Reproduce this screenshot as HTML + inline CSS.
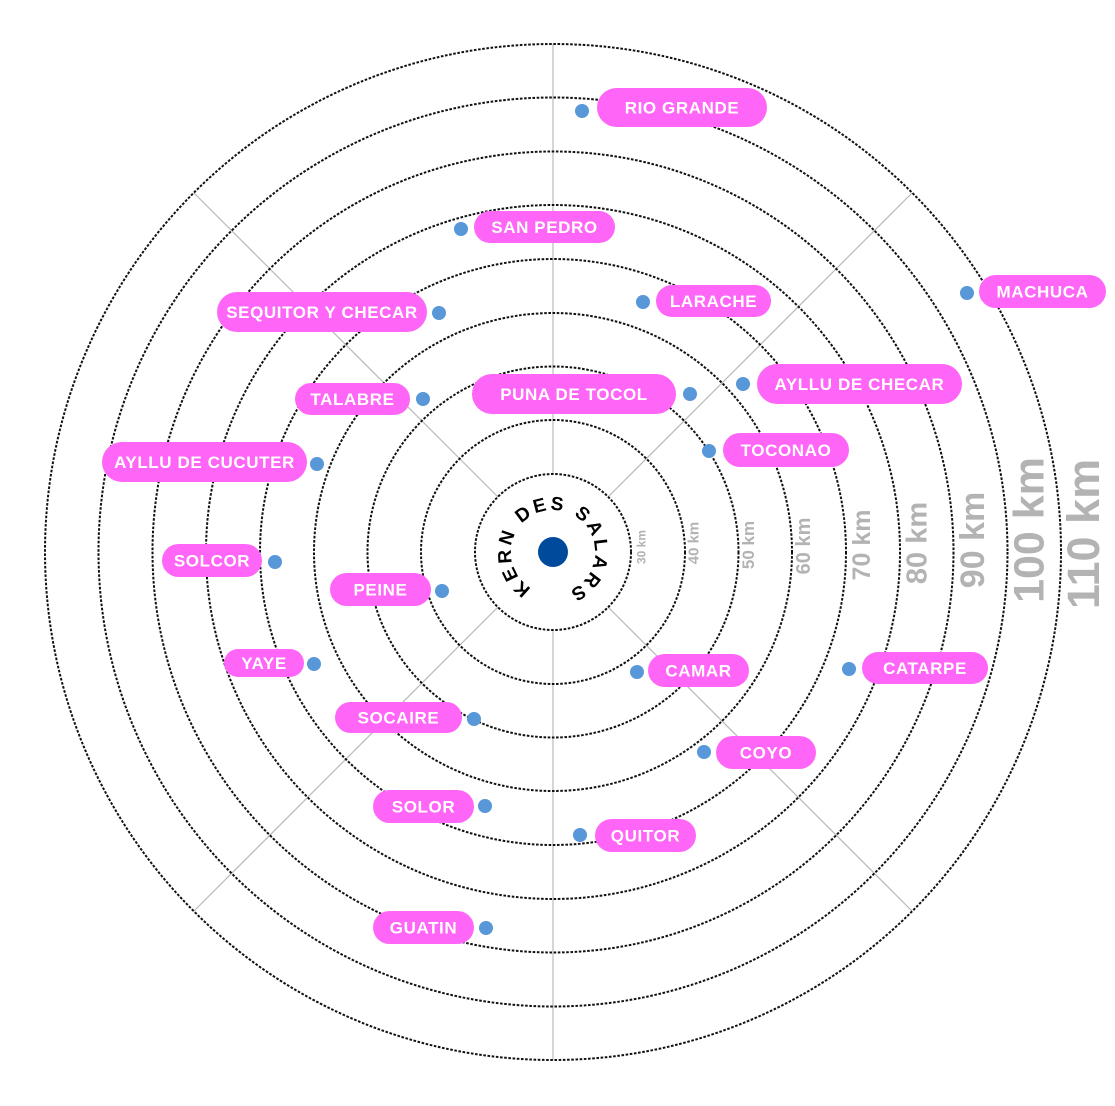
<!DOCTYPE html>
<html>
<head>
<meta charset="utf-8">
<style>
  html,body{margin:0;padding:0;background:#fff;}
  body{width:1115px;height:1106px;overflow:hidden;}
  svg{display:block;}
  .pill{fill:#ff66f7;}
  .pt{fill:#fff;font-family:"Liberation Sans",Arial,sans-serif;font-weight:bold;font-size:17px;letter-spacing:0.6px;text-anchor:middle;}
  .dot{fill:#5897d8;}
  .km{fill:#b3b3b3;font-family:"Liberation Sans",Arial,sans-serif;font-weight:bold;text-anchor:middle;}
</style>
</head>
<body>
<svg width="1115" height="1106" viewBox="0 0 1115 1106" xmlns="http://www.w3.org/2000/svg">
  <!-- axis lines -->
  <line x1="553" y1="44" x2="553" y2="474" stroke="#d6d6d6" stroke-width="2"/>
  <line x1="553" y1="630" x2="553" y2="1060" stroke="#d6d6d6" stroke-width="2"/>
  <line x1="194" y1="193" x2="498" y2="497" stroke="#b8b8b8" stroke-width="1.2"/>
  <line x1="912" y1="193" x2="608" y2="497" stroke="#b8b8b8" stroke-width="1.2"/>
  <line x1="194" y1="911" x2="498" y2="607" stroke="#b8b8b8" stroke-width="1.2"/>
  <line x1="912" y1="911" x2="608" y2="607" stroke="#b8b8b8" stroke-width="1.2"/>

  <!-- dotted circles -->
  <g fill="none" stroke="#111" stroke-width="2" stroke-dasharray="2.6 1.6">
    <circle cx="553" cy="552" r="78"/>
    <circle cx="553" cy="552" r="132"/>
    <circle cx="553" cy="552" r="185.5"/>
    <circle cx="553" cy="552" r="239"/>
    <circle cx="553" cy="552" r="293"/>
    <circle cx="553" cy="552" r="347"/>
    <circle cx="553" cy="552" r="400.5"/>
    <circle cx="553" cy="552" r="454.5"/>
    <circle cx="553" cy="552" r="508"/>
  </g>

  <!-- km labels -->
  <text class="km" font-size="12" transform="translate(645.3,547) rotate(-90)">30 km</text>
  <text class="km" font-size="15" transform="translate(698.4,543) rotate(-90)">40 km</text>
  <text class="km" font-size="17" transform="translate(754.1,545) rotate(-90)">50 km</text>
  <text class="km" font-size="20" transform="translate(810.2,546) rotate(-90)">60 km</text>
  <text class="km" font-size="25" transform="translate(870,545) rotate(-90)">70 km</text>
  <text class="km" font-size="29" transform="translate(926.4,543) rotate(-90)">80 km</text>
  <text class="km" font-size="34" transform="translate(984.2,540) rotate(-90)">90 km</text>
  <text class="km" font-size="43" transform="translate(1043.5,530) rotate(-90)">100 km</text>
  <text class="km" font-size="45" transform="translate(1099.2,534) rotate(-90)">110 km</text>

  <!-- center -->
  <defs>
    <path id="arc" d="M 553 594 A 42 42 0 1 1 553 510 A 42 42 0 1 1 553 594" fill="none"/>
  </defs>
  <text font-family="'Liberation Sans',Arial,sans-serif" font-weight="bold" font-size="19" letter-spacing="3" fill="#000">
    <textPath href="#arc" startOffset="51.5%" text-anchor="middle">KERN DES SALARS</textPath>
  </text>
  <circle cx="553" cy="552" r="15" fill="#004a9c"/>

  <!-- pills -->
  <g>
    <rect class="pill" x="597" y="88" width="170" height="39" rx="19.5"/>
    <text class="pt" x="682" y="113.5">RIO GRANDE</text>
    <circle class="dot" cx="582" cy="111" r="7"/>

    <rect class="pill" x="474" y="211" width="141" height="32" rx="16"/>
    <text class="pt" x="544.5" y="233">SAN PEDRO</text>
    <circle class="dot" cx="461" cy="229" r="7"/>

    <rect class="pill" x="656" y="285" width="115" height="32" rx="16"/>
    <text class="pt" x="713.5" y="307">LARACHE</text>
    <circle class="dot" cx="643" cy="302" r="7"/>

    <rect class="pill" x="979" y="275" width="127" height="33" rx="16.5"/>
    <text class="pt" x="1042.5" y="297.5">MACHUCA</text>
    <circle class="dot" cx="967" cy="293" r="7"/>

    <rect class="pill" x="217" y="292" width="210" height="40" rx="20"/>
    <text class="pt" x="322" y="318">SEQUITOR Y CHECAR</text>
    <circle class="dot" cx="439" cy="313" r="7"/>

    <rect class="pill" x="295" y="383" width="115" height="32" rx="16"/>
    <text class="pt" x="352.5" y="405">TALABRE</text>
    <circle class="dot" cx="423" cy="399" r="7"/>

    <rect class="pill" x="472" y="374" width="204" height="40" rx="20"/>
    <text class="pt" x="574" y="400">PUNA DE TOCOL</text>
    <circle class="dot" cx="690" cy="394" r="7"/>

    <rect class="pill" x="757" y="364" width="205" height="40" rx="20"/>
    <text class="pt" x="859.5" y="390">AYLLU DE CHECAR</text>
    <circle class="dot" cx="743" cy="384" r="7"/>

    <rect class="pill" x="723" y="433" width="126" height="34" rx="17"/>
    <text class="pt" x="786" y="456">TOCONAO</text>
    <circle class="dot" cx="709" cy="451" r="7"/>

    <rect class="pill" x="102" y="442" width="205" height="40" rx="20"/>
    <text class="pt" x="204.5" y="468">AYLLU DE CUCUTER</text>
    <circle class="dot" cx="317" cy="464" r="7"/>

    <rect class="pill" x="162" y="544" width="100" height="33" rx="16.5"/>
    <text class="pt" x="212" y="566.5">SOLCOR</text>
    <circle class="dot" cx="275" cy="562" r="7"/>

    <rect class="pill" x="330" y="573" width="101" height="33" rx="16.5"/>
    <text class="pt" x="380.5" y="595.5">PEINE</text>
    <circle class="dot" cx="442" cy="591" r="7"/>

    <rect class="pill" x="224" y="649" width="80" height="28" rx="14"/>
    <text class="pt" x="264" y="669">YAYE</text>
    <circle class="dot" cx="314" cy="664" r="7"/>

    <rect class="pill" x="648" y="654" width="101" height="33" rx="16.5"/>
    <text class="pt" x="698.5" y="676.5">CAMAR</text>
    <circle class="dot" cx="637" cy="672" r="7"/>

    <rect class="pill" x="862" y="652" width="126" height="32" rx="16"/>
    <text class="pt" x="925" y="674">CATARPE</text>
    <circle class="dot" cx="849" cy="669" r="7"/>

    <rect class="pill" x="335" y="702" width="127" height="31" rx="15.5"/>
    <text class="pt" x="398.5" y="723.5">SOCAIRE</text>
    <circle class="dot" cx="474" cy="719" r="7"/>

    <rect class="pill" x="716" y="736" width="100" height="33" rx="16.5"/>
    <text class="pt" x="766" y="758.5">COYO</text>
    <circle class="dot" cx="704" cy="752" r="7"/>

    <rect class="pill" x="373" y="790" width="101" height="33" rx="16.5"/>
    <text class="pt" x="423.5" y="812.5">SOLOR</text>
    <circle class="dot" cx="485" cy="806" r="7"/>

    <rect class="pill" x="595" y="819" width="101" height="33" rx="16.5"/>
    <text class="pt" x="645.5" y="841.5">QUITOR</text>
    <circle class="dot" cx="580" cy="835" r="7"/>

    <rect class="pill" x="373" y="911" width="101" height="33" rx="16.5"/>
    <text class="pt" x="423.5" y="933.5">GUATIN</text>
    <circle class="dot" cx="486" cy="928" r="7"/>
  </g>
</svg>
</body>
</html>
